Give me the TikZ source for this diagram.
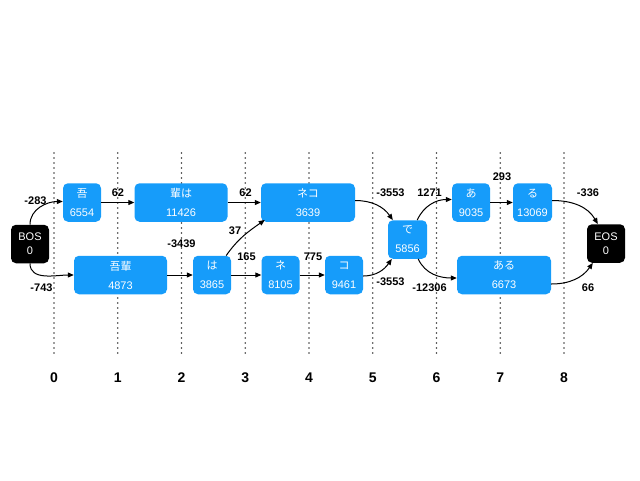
\documentclass[tikz,border=0pt]{standalone}
\usepackage{fontspec}
\setmainfont{Liberation Sans}
\newfontfamily\jp{Noto Sans CJK JP}
\usetikzlibrary{arrows.meta}
\definecolor{nodeblue}{RGB}{22,156,250}
\definecolor{dotgray}{RGB}{60,60,60}
\begin{document}
\begin{tikzpicture}[x=1pt,y=-1pt,
  box/.style={draw=none,fill=nodeblue,rounded corners=5pt,text=white,align=center,
    minimum height=38.5pt,inner sep=0pt,font={\fontsize{11}{19}\selectfont}},
  term/.style={box,fill=black,minimum width=38pt,minimum height=38.5pt,font={\fontsize{11}{14}\selectfont}},
  arr/.style={-{Triangle[length=6pt,width=5pt]},line width=1pt,black},
  elab/.style={font={\fontsize{11}{12}\selectfont\bfseries},inner sep=0pt},
  ticklab/.style={font={\fontsize{14}{16}\selectfont\bfseries},inner sep=0pt},
  grid/.style={dotgray,line width=1.6pt,dash pattern=on 0pt off 5pt,line cap=round}]
\useasboundingbox (0,0) rectangle (640,480);
% dotted columns
\foreach \i in {0,...,8}{
  \coordinate (t\i) at ({54+63.75*\i},153);
  \coordinate (b\i) at ({54+63.75*\i},356);
  \draw[grid] (t\i) -- (b\i);
  \node[ticklab] (n\i) at ({54+63.75*\i},378) {\i};
}
% nodes
\node[term] (bos) at (30,244) {BOS\\0};
\node[term] (eos) at (606,243.5) {EOS\\0};
\node[box,minimum width=38pt] (wa) at (82,202.5) {{\jp 吾}\\6554};
\node[box,minimum width=93pt] (haiha) at (181,202.5) {{\jp 輩は}\\11426};
\node[box,minimum width=93pt] (wagahai) at (120.5,275) {{\jp 吾輩}\\4873};
\node[box,minimum width=38pt] (ha) at (212,275) {{\jp は}\\3865};
\node[box,minimum width=94pt] (neko) at (308,202.5) {{\jp ネコ}\\3639};
\node[box,minimum width=38pt] (ne) at (280.5,275) {{\jp ネ}\\8105};
\node[box,minimum width=38pt] (ko) at (344,275) {{\jp コ}\\9461};
\node[box,minimum width=39pt] (de) at (407.5,239.5) {{\jp で}\\5856};
\node[box,minimum width=38pt] (a) at (471,202.5) {{\jp あ}\\9035};
\node[box,minimum width=39pt] (ru) at (532.5,202.5) {{\jp る}\\13069};
\node[box,minimum width=94pt] (aru) at (504,275) {{\jp ある}\\6673};
% connectors
\draw[arr] (bos.north) to[out=90,in=180] ([yshift=1pt]wa.west);
\draw[arr] (bos.south) to[out=-90,in=180] (wagahai.west);
\draw[arr] (wa.east) -- (haiha.west);
\draw[arr] (wagahai.east) -- (ha.west);
\draw[arr] (haiha.east) -- (neko.west);
\draw[arr] ([xshift=-5pt]ha.north east) to[out=55,in=215] ([xshift=4pt,yshift=2pt]neko.south west);
\draw[arr] (ha.east) -- (ne.west);
\draw[arr] (ne.east) -- (ko.west);
\draw[arr] ([yshift=2pt]neko.east) to[out=0,in=125] ([xshift=5pt]de.north west);
\draw[arr] ([yshift=-1pt]ko.east) to[out=0,in=-125] ([xshift=4pt]de.south west);
\draw[arr] ([xshift=-10pt]de.north east) to[out=65,in=180] ([yshift=3pt]a.west);
\draw[arr] ([xshift=-9pt]de.south east) to[out=-65,in=180] ([yshift=-3pt]aru.west);
\draw[arr] (a.east) -- (ru.west);
\draw[arr] ([yshift=2pt]ru.east) to[out=0,in=120] ([xshift=11pt]eos.north west);
\draw[arr] ([yshift=-9pt]aru.east) to[out=0,in=-125] ([xshift=6pt]eos.south west);
% edge labels
\node[elab] (l1) at (35.5,201) {-283};
\node[elab] (l2) at (41.5,288) {-743};
\node[elab] (l3) at (118,193) {62};
\node[elab] (l4) at (181.5,244) {-3439};
\node[elab] (l5) at (245.5,193) {62};
\node[elab] (l6) at (235,231) {37};
\node[elab] (l7) at (246.5,257) {165};
\node[elab] (l8) at (313,257) {775};
\node[elab] (l9) at (390.5,193) {-3553};
\node[elab] (l10) at (390.5,282) {-3553};
\node[elab] (l11) at (429.5,193) {1271};
\node[elab] (l12) at (429.5,288) {-12306};
\node[elab] (l13) at (502,177) {293};
\node[elab] (l14) at (588,193) {-336};
\node[elab] (l15) at (588,288) {66};
\end{tikzpicture}
\end{document}
